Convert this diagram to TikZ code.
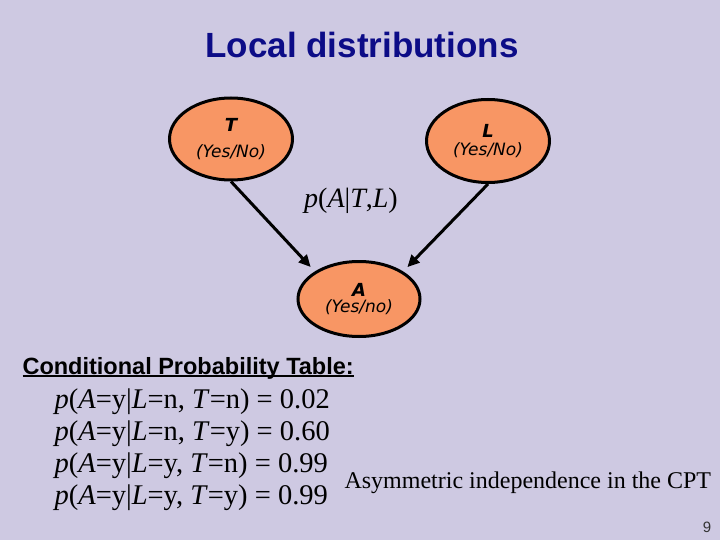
\documentclass[tikz,border=0pt]{standalone}
\usepackage{fontspec}
\setmainfont{Liberation Serif}
\setsansfont{Liberation Sans}
\newfontfamily\nodefont{DejaVu Sans}
\usetikzlibrary{positioning,arrows.meta,shapes.geometric}
\definecolor{slidebg}{RGB}{206,201,226}
\definecolor{titlecol}{RGB}{12,12,135}
\definecolor{varfill}{RGB}{248,150,100}
\newcommand{\cptrow}[3]{\textit{p}(\textit{A}=y|\textit{L}=#1, \textit{T}=#2) = #3}
\newcommand{\varname}[1]{{\bfseries\fontsize{18}{18}\selectfont #1}}
\newsavebox{\headbox}
\newcommand{\headline}[1]{\sbox{\headbox}{#1}\rlap{\rule[-3pt]{\wd\headbox}{1.6pt}}\usebox{\headbox}}
\tikzset{
  var/.style={ellipse, draw=black, line width=3pt, fill=varfill, inner sep=0pt,
    minimum width=123pt, minimum height=80pt, align=center,
    font=\nodefont\itshape\fontsize{17}{19}\selectfont},
  arr/.style={-{Triangle[length=12pt,width=11pt]}, line width=3pt},
}

\begin{document}
\begin{tikzpicture}[x=1pt,y=-1pt]
  \fill[slidebg] (0,0) rectangle (720,540);
  \useasboundingbox (0,0) rectangle (720,540);

  % titel
  \node[font=\sffamily\bfseries\fontsize{35}{40}\selectfont, text=titlecol] (title) at (362,45) {Local distributions};

  % variabelen
  \node[var, minimum height=82pt] (T) at (231,139) {\varname{T}\\[7pt](Yes/No)};
  \node[var, minimum height=83pt] (L) at (488,141) {\varname{L}\\[-1pt](Yes/No)};
  \node[var, minimum width=122pt, minimum height=75pt] (A) at (359,299) {\varname{A}\\[-3pt](Yes/no)};

  \node[font=\fontsize{28}{32}\selectfont] (cpd) at (351,201) {\textit{p}(\textit{A}|\textit{T},\textit{L})};

  \draw[arr, shorten >=6pt] (T.south) -- (A.north west);
  \draw[arr, shorten >=6pt] (L.south) -- (A.north east);

  % tabel
  \node[anchor=west, font=\sffamily\bfseries\fontsize{23.5}{28}\selectfont] (cpt) at (19,368) {\headline{Conditional Probability Table:}};
  \node[anchor=west, align=left, font=\fontsize{28.5}{32}\selectfont] (rows) at (51,450)
    {\cptrow{n}{n}{0.02}\\\cptrow{n}{y}{0.60}\\\cptrow{y}{n}{0.99}\\\cptrow{y}{y}{0.99}};
  \node[anchor=west, font=\fontsize{24}{28}\selectfont] (note) at (341,483) {Asymmetric independence in the CPT};

  \node[font=\sffamily\fontsize{15}{18}\selectfont, text=black!80] (pnum) at (707,527) {9};
\end{tikzpicture}
\end{document}
